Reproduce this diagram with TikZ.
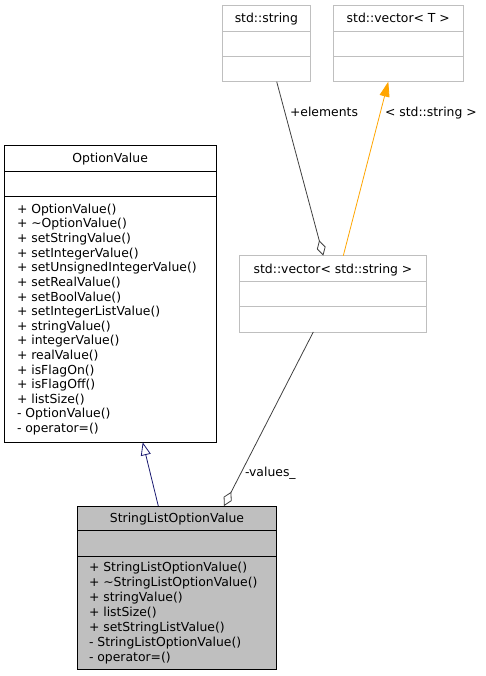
\documentclass[tikz,border=0pt]{standalone}
\usepackage{fontspec}
\setmainfont{DejaVu Sans}
\usetikzlibrary{arrows.meta}
\definecolor{boxgray}{HTML}{BFBFBF}
\definecolor{lightedge}{HTML}{BFBFBF}
\definecolor{edgegray}{HTML}{404040}
\definecolor{navyedge}{HTML}{191970}
\definecolor{orangeedge}{HTML}{FFA500}
\begin{document}
\begin{tikzpicture}[x=1pt,y=-1pt,
  classbox/.style={draw=#1, line width=0.9pt, inner sep=0pt, outer sep=0pt, anchor=north west},
  divider/.style={draw=#1, line width=0.9pt},
  txt/.style={font=\fontsize{12.4}{14.7}\selectfont, inner sep=0pt, outer sep=0pt},
  titletxt/.style={txt, anchor=base},
  methods/.style={txt, anchor=base west, align=left, font=\fontsize{12.4}{#1}\selectfont},
  lbl/.style={txt, anchor=base west},
  assoc/.style={draw=edgegray, line width=0.8pt, {Diamond[open, fill=white, length=16pt, width=9pt]}-},
  inherit/.style={draw=navyedge, line width=0.8pt, -{Triangle[open, fill=white, length=13pt, width=10pt]}},
  templ/.style={draw=orangeedge, line width=0.8pt, -{Triangle[length=15pt, width=10pt]}}
]
\useasboundingbox (0,0) rectangle (485,676);

% std::string
\node[classbox=lightedge, minimum width=87.3pt, minimum height=76.4pt] (ss) at (222.7,5.3) {};
\draw[divider=lightedge] (222.7,31.3) -- (310,31.3);
\draw[divider=lightedge] (222.7,56.3) -- (310,56.3);
\node[titletxt] (sst) at (266.35,22.8) {std::string};

% std::vector< T >
\node[classbox=lightedge, minimum width=130pt, minimum height=76.4pt] (vt) at (333.3,5.3) {};
\draw[divider=lightedge] (333.3,31.3) -- (463.3,31.3);
\draw[divider=lightedge] (333.3,56.3) -- (463.3,56.3);
\node[titletxt] (vtt) at (398.3,22.8) {std::vector< T >};

% std::vector< std::string >
\node[classbox=lightedge, minimum width=187.4pt, minimum height=76.3pt] (vs) at (239.3,255.7) {};
\draw[divider=lightedge] (239.3,281.7) -- (426.7,281.7);
\draw[divider=lightedge] (239.3,306.7) -- (426.7,306.7);
\node[titletxt] (vst) at (333,273.2) {std::vector< std::string >};

% OptionValue
\node[classbox=black, minimum width=211.7pt, minimum height=297.3pt] (ov) at (4.3,145) {};
\draw[divider=black] (4.3,171.7) -- (216,171.7);
\draw[divider=black] (4.3,196.7) -- (216,196.7);
\node[titletxt] (ovt) at (110.15,162.8) {OptionValue};
% anchored at the baseline of the last line
\node[methods=14.62] (ovm) at (17,432.6) {+ OptionValue()\\+ \char`\~OptionValue()\\+ setStringValue()\\+ setIntegerValue()\\+ setUnsignedIntegerValue()\\+ setRealValue()\\+ setBoolValue()\\+ setIntegerListValue()\\+ stringValue()\\+ integerValue()\\+ realValue()\\+ isFlagOn()\\+ isFlagOff()\\+ listSize()\\- OptionValue()\\- operator=()};

% StringListOptionValue
\node[classbox=black, fill=boxgray, minimum width=199.4pt, minimum height=163.3pt] (sl) at (77.3,506) {};
\draw[divider=black] (77.3,530.7) -- (276.7,530.7);
\draw[divider=black] (77.3,556) -- (276.7,556);
\node[titletxt] (slt) at (177,522.8) {StringListOptionValue};
\node[methods=14.9] (slm) at (89,661.0) {+ StringListOptionValue()\\+ \char`\~StringListOptionValue()\\+ stringValue()\\+ listSize()\\+ setStringListValue()\\- StringListOptionValue()\\- operator=()};

% connector end points on the box borders
\coordinate (ssB) at (276.7,81.7);
\coordinate (vtB) at (388.3,81.7);
\coordinate (vsTa) at (323.3,255.7);
\coordinate (vsTb) at (343.3,255.7);
\coordinate (vsB) at (313.3,332);
\coordinate (ovB) at (142.7,442.3);
\coordinate (slTa) at (158.3,506);
\coordinate (slTb) at (224,506);

\draw[assoc] (vsTa) -- (ssB);
\draw[templ] (vsTb) -- (vtB);
\draw[assoc] (slTb) -- (vsB);
\draw[inherit] (slTa) -- (ovB);

\node[lbl] (l1) at (290,116.5) {+elements};
\node[lbl] (l2) at (385,116.5) {< std::string >};
\node[lbl] (l3) at (245,476.5) {-values\_};
\end{tikzpicture}
\end{document}
